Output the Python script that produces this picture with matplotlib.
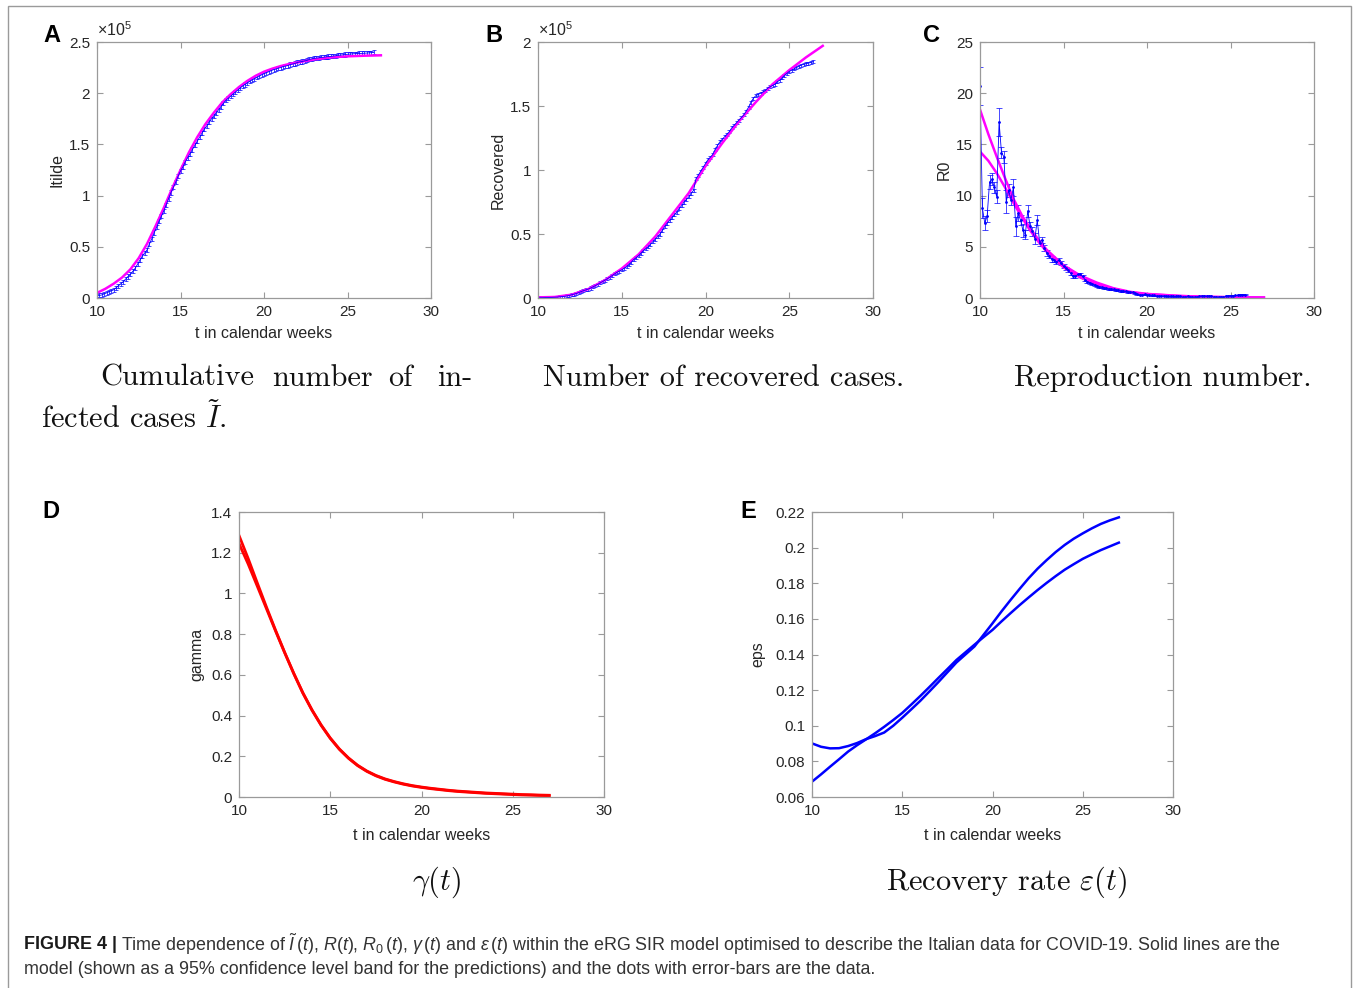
import numpy as np
import matplotlib
matplotlib.use('Agg')
import matplotlib.pyplot as plt
from matplotlib.ticker import FormatStrFormatter
from matplotlib.patches import Rectangle

plt.rcParams['font.family'] = ['Liberation Sans', 'DejaVu Sans']
plt.rcParams['mathtext.fontset'] = 'custom'
plt.rcParams['mathtext.rm'] = 'Liberation Sans'
plt.rcParams['mathtext.it'] = 'Liberation Sans:italic'
plt.rcParams['mathtext.bf'] = 'Liberation Sans:bold'

W, H = 1356, 988

# ---- data ----
weeks = [10, 11, 12, 13, 14, 15, 16, 17, 18, 19, 20, 21, 22, 23, 24, 25, 26, 27]
half_weeks = [10, 10.5, 11, 11.5, 12, 12.5, 13, 13.5, 14, 14.5, 15, 15.5, 16, 16.5, 17, 17.5,
              18, 18.5, 19, 19.5, 20, 20.5, 21, 21.5, 22, 22.5, 23, 23.5, 24, 24.5, 25, 25.5,
              26, 26.5, 27]

# A: cumulative infected, x1e5
itilde_model = [0.05, 0.09, 0.14, 0.20, 0.28, 0.39, 0.53, 0.70, 0.88, 1.07, 1.25, 1.42,
                1.57, 1.70, 1.81, 1.91, 1.99, 2.06, 2.12, 2.17, 2.21, 2.24, 2.265, 2.285,
                2.30, 2.315, 2.33, 2.34, 2.35, 2.355, 2.36, 2.363, 2.366, 2.368, 2.37]
itilde_data = [0.02, 0.025, 0.03, 0.04, 0.05, 0.06, 0.07,
               0.08, 0.10, 0.12, 0.14, 0.16, 0.185, 0.21,
               0.23, 0.26, 0.29, 0.33, 0.37, 0.41, 0.44,
               0.47, 0.53, 0.58, 0.64, 0.69, 0.75, 0.80,
               0.85, 0.91, 0.97, 1.03, 1.08, 1.13, 1.19,
               1.24, 1.28, 1.33, 1.37, 1.41, 1.45, 1.49,
               1.53, 1.57, 1.61, 1.65, 1.68, 1.72, 1.75,
               1.78, 1.81, 1.84, 1.87, 1.90, 1.93, 1.95,
               1.97, 1.99, 2.01, 2.03, 2.05, 2.07, 2.085,
               2.10, 2.115, 2.13, 2.14, 2.155, 2.165, 2.18,
               2.19, 2.20, 2.21, 2.22, 2.23, 2.235, 2.245,
               2.25, 2.26, 2.265, 2.27, 2.28, 2.285, 2.29,
               2.30, 2.305, 2.31, 2.315, 2.32, 2.33, 2.335,
               2.34, 2.343, 2.346, 2.35, 2.352, 2.355, 2.358,
               2.36, 2.363, 2.366, 2.37, 2.372, 2.375, 2.378,
               2.38, 2.382, 2.384, 2.386, 2.387, 2.388, 2.389,
               2.39, 2.392, 2.394, 2.396, 2.398]
itilde_err = 0.02

# B: recovered, x1e5
rec_model = [0.005, 0.008, 0.026, 0.07, 0.14, 0.23, 0.34, 0.48, 0.65, 0.82, 1.03, 1.21,
             1.38, 1.53, 1.67, 1.78, 1.88, 1.97]
rec_data = [0.001, 0.002, 0.002, 0.003, 0.003, 0.004, 0.005,
            0.006, 0.007, 0.009, 0.011, 0.013, 0.016, 0.02,
            0.025, 0.03, 0.035, 0.042, 0.05, 0.057, 0.063,
            0.07, 0.078, 0.087, 0.097, 0.107, 0.118, 0.128,
            0.14, 0.15, 0.162, 0.175, 0.188, 0.20, 0.21,
            0.22, 0.232, 0.245, 0.262, 0.28, 0.30, 0.315,
            0.33, 0.35, 0.37, 0.385, 0.40, 0.42, 0.44,
            0.46, 0.48, 0.50, 0.53, 0.56, 0.585, 0.605,
            0.63, 0.65, 0.67, 0.70, 0.72, 0.75, 0.77,
            0.79, 0.82, 0.84, 0.93, 0.96, 0.99, 1.02,
            1.05, 1.08, 1.10, 1.12, 1.16, 1.19, 1.22,
            1.24, 1.26, 1.28, 1.30, 1.33, 1.35, 1.37,
            1.39, 1.41, 1.43, 1.46, 1.49, 1.53, 1.56,
            1.58, 1.59, 1.60, 1.61, 1.62, 1.64, 1.65,
            1.66, 1.67, 1.69, 1.70, 1.72, 1.74, 1.755,
            1.77, 1.78, 1.79, 1.80, 1.81, 1.82, 1.825,
            1.83, 1.835, 1.84, 1.845]
rec_err = 0.012

# C: reproduction number
r0_weeks = [10, 10.5, 11, 11.5, 12, 12.5, 13, 13.5, 14, 15, 16, 17, 18, 19, 20, 21, 22,
            23, 24, 25, 26, 27]
r0_hi = [18.4, 16.0, 13.8, 11.7, 9.7, 8.1, 6.8, 5.7, 4.7, 3.2, 2.2, 1.5, 0.95, 0.6, 0.4,
         0.3, 0.2, 0.15, 0.1, 0.08, 0.06, 0.05]
r0_lo = [14.3, 13.4, 12.2, 10.8, 9.3, 7.9, 6.6, 5.5, 4.5, 3.0, 2.0, 1.35, 0.9, 0.55, 0.38,
         0.28, 0.19, 0.14, 0.1, 0.08, 0.06, 0.05]
r0_data = [20.7, 8.8, 7.3, 8.0, 11.3, 11.6, 10.8,
           9.9, 17.2, 14.2, 13.8, 9.4, 10.5, 9.6,
           10.8, 7.0, 8.3, 7.6, 6.6, 6.2, 8.5,
           7.0, 6.5, 5.8, 7.6, 5.4, 5.7, 4.9,
           4.4, 4.1, 3.8, 3.7, 3.5, 3.7, 3.4,
           3.1, 2.9, 2.7, 2.4, 2.1, 2.1, 2.3,
           2.3, 2.1, 1.8, 1.6, 1.5, 1.4, 1.3,
           1.2, 1.1, 1.05, 1.0, 0.95, 0.9, 0.9,
           0.85, 0.8, 0.8, 0.7, 0.7, 0.65, 0.6,
           0.6, 0.55, 0.5, 0.35, 0.3, 0.3, 0.35,
           0.3, 0.3, 0.25, 0.25, 0.2, 0.2, 0.2,
           0.2, 0.2, 0.15, 0.2, 0.15, 0.15, 0.2,
           0.15, 0.1, 0.1, 0.15, 0.1, 0.1, 0.1,
           0.1, 0.15, 0.2, 0.2, 0.15, 0.2, 0.15,
           0.1, 0.1, 0.1, 0.1, 0.1, 0.15, 0.2,
           0.2, 0.2, 0.25, 0.25, 0.3, 0.3, 0.3]
r0_err = [1.9, 1.0, 0.7, 0.6, 0.7, 0.6, 0.5,
          0.6, 1.4, 0.5, 0.6, 1.1, 0.6, 0.5,
          0.8, 0.9, 0.8, 0.5, 0.6, 0.4, 0.6,
          0.4, 0.4, 0.5, 0.5, 0.3, 0.3, 0.3,
          0.3, 0.2, 0.3, 0.2, 0.2, 0.2, 0.2,
          0.2, 0.15, 0.15, 0.15, 0.15, 0.15, 0.15,
          0.15, 0.15, 0.1, 0.1, 0.1, 0.1, 0.1,
          0.1, 0.1, 0.1, 0.1, 0.1, 0.1, 0.1,
          0.08, 0.08, 0.08, 0.08, 0.08, 0.08, 0.08,
          0.08, 0.08, 0.08, 0.05, 0.05, 0.05, 0.05,
          0.05, 0.05, 0.05, 0.05, 0.05, 0.05, 0.05,
          0.05, 0.05, 0.05, 0.05, 0.05, 0.05, 0.05,
          0.05, 0.05, 0.05, 0.05, 0.05, 0.05, 0.05,
          0.05, 0.05, 0.05, 0.05, 0.05, 0.05, 0.05,
          0.05, 0.05, 0.05, 0.05, 0.05, 0.05, 0.05,
          0.05, 0.05, 0.05, 0.05, 0.05, 0.05, 0.05]

# D: gamma(t) band (half-week grid)
gamma_hi = [1.285, 1.172, 1.052, 0.934, 0.820, 0.711, 0.608, 0.512, 0.428, 0.354, 0.290,
            0.236, 0.192, 0.156, 0.128, 0.106, 0.089, 0.076, 0.065, 0.056, 0.049, 0.043,
            0.038, 0.033, 0.029, 0.026, 0.023, 0.020, 0.018, 0.016, 0.014, 0.012, 0.011,
            0.0095, 0.0085]
gamma_lo = [1.245, 1.145, 1.036, 0.926, 0.816, 0.709, 0.606, 0.510, 0.426, 0.352, 0.288,
            0.234, 0.190, 0.154, 0.126, 0.104, 0.087, 0.074, 0.063, 0.054, 0.047, 0.041,
            0.036, 0.031, 0.027, 0.024, 0.021, 0.018, 0.016, 0.014, 0.012, 0.010, 0.009,
            0.0075, 0.0065]

# E: eps(t) band (half-week grid)
eps_a = [0.0901, 0.0882, 0.0873, 0.0874, 0.0886, 0.0903, 0.0925, 0.0942, 0.0962, 0.1000,
         0.1045, 0.1092, 0.1140, 0.1192, 0.1245, 0.1300, 0.1355, 0.1400, 0.1445, 0.1510,
         0.1575, 0.1642, 0.1706, 0.1768, 0.1828, 0.1882, 0.1930, 0.1975, 0.2015, 0.2050,
         0.2080, 0.2108, 0.2133, 0.2153, 0.2170]
eps_b = [0.0686, 0.0727, 0.0770, 0.0812, 0.0855, 0.0891, 0.0924, 0.0958, 0.0994, 0.1032,
         0.1072, 0.1119, 0.1167, 0.1217, 0.1268, 0.1318, 0.1369, 0.1412, 0.1455, 0.1497,
         0.1538, 0.1586, 0.1632, 0.1677, 0.1720, 0.1762, 0.1802, 0.1840, 0.1876, 0.1907,
         0.1937, 0.1962, 0.1986, 0.2007, 0.2028]

# ---- figure ----
fig = plt.figure(figsize=(W / 100, H / 100), dpi=100)


def px_axes(x0, y0, x1, y1):
    return fig.add_axes([x0 / W, 1 - y1 / H, (x1 - x0) / W, (y1 - y0) / H])


def style(ax, ylim, yticks, ylab, ylab_x, fmt='%g'):
    ax.set_xlim(10, 30)
    ax.set_xticks([10, 15, 20, 25, 30])
    ax.set_ylim(*ylim)
    ax.set_yticks(yticks)
    ax.yaxis.set_major_formatter(FormatStrFormatter(fmt))
    ax.tick_params(direction='in', top=True, right=True, length=4, width=0.8,
                   color='#9a9a9a', labelcolor='#262626', labelsize=11, pad=5)
    for s in ax.spines.values():
        s.set_color('#9a9a9a')
        s.set_linewidth(0.9)
    ax.set_xlabel('t in calendar weeks', fontsize=11.5, color='#262626')
    ax.set_ylabel(ylab, fontsize=11.5, color='#262626')
    ax.yaxis.set_label_coords(ylab_x, 0.5)
    ax.xaxis.set_label_coords(0.5, -0.11)


t_day = 10 + np.arange(120) / 7.0

# A
axA = px_axes(97, 42, 431, 298)
axA.errorbar(t_day[:len(itilde_data)], itilde_data, yerr=itilde_err, color='#0000ff',
             lw=0.6, elinewidth=0.5, capsize=1.5, capthick=0.5)
axA.plot(half_weeks, itilde_model, color='#ff00ff', lw=1.8)
style(axA, (0, 2.5), [0, 0.5, 1, 1.5, 2, 2.5], 'Itilde', -0.096)
axA.text(0.0, 1.01, r'$\mathregular{\times10^5}$', transform=axA.transAxes,
         fontsize=11.5, color='#262626', va='bottom', ha='left')

# B
axB = px_axes(538, 42, 873, 298)
axB.errorbar(t_day[:len(rec_data)], rec_data, yerr=rec_err, color='#0000ff',
             lw=0.6, elinewidth=0.5, capsize=1.5, capthick=0.5)
axB.plot(weeks, rec_model, color='#ff00ff', lw=1.8)
style(axB, (0, 2), [0, 0.5, 1, 1.5, 2], 'Recovered', -0.095)
axB.text(0.0, 1.01, r'$\mathregular{\times10^5}$', transform=axB.transAxes,
         fontsize=11.5, color='#262626', va='bottom', ha='left')

# C
axC = px_axes(980, 42, 1314, 298)
axC.errorbar(t_day[:len(r0_data)], r0_data, yerr=r0_err, color='#0000ff',
             lw=0.6, elinewidth=0.5, capsize=2, capthick=0.5, marker='.', ms=2)
axC.plot(r0_weeks, r0_hi, color='#ff00ff', lw=1.8)
axC.plot(r0_weeks, r0_lo, color='#ff00ff', lw=1.8)
style(axC, (0, 25), [0, 5, 10, 15, 20, 25], 'R0', -0.086)

# D
axD = px_axes(239, 512, 604, 797)
axD.plot(half_weeks, gamma_hi, color='#ff0000', lw=2)
axD.plot(half_weeks, gamma_lo, color='#ff0000', lw=2)
style(axD, (0, 1.4), [0, 0.2, 0.4, 0.6, 0.8, 1, 1.2, 1.4], 'gamma', -0.096)

# E
axE = px_axes(812, 512, 1173, 797)
axE.plot(half_weeks, eps_a, color='#0000ff', lw=1.8)
axE.plot(half_weeks, eps_b, color='#0000ff', lw=1.8)
style(axE, (0.06, 0.22), [0.06, 0.08, 0.1, 0.12, 0.14, 0.16, 0.18, 0.2, 0.22], 'eps', -0.128)

# panel letters
for lab, x, y in [('A', 52, 35), ('B', 494, 35), ('C', 932, 35), ('D', 51, 512), ('E', 748, 512)]:
    fig.text(x / W, 1 - y / H, lab, fontsize=17, fontweight='bold', ha='center', va='center')

# sub captions (serif, LaTeX look)
cap = dict(fontsize=21.8, family='cmr10', math_fontfamily='cm', va='center', color='#111111')
for word, x in [('Cumulative', 100), ('number', 272), ('of', 388), ('in-', 437)]:
    fig.text(x / W, 1 - 378 / H, word, **cap)
fig.text(41 / W, 1 - 418 / H, r'fected cases $\tilde{I}$.', **cap)
fig.text(543 / W, 1 - 378 / H, 'Number of recovered cases.', **cap)
fig.text(1014 / W, 1 - 378 / H, 'Reproduction number.', **cap)
fig.text(437 / W, 1 - 882 / H, r'$\gamma(t)$', ha='center', fontsize=21.8, math_fontfamily='cm',
         va='center', color='#111111')
fig.text(886 / W, 1 - 882 / H, r'Recovery rate $\varepsilon(t)$', **cap)

# figure caption
renderer = fig.canvas.get_renderer()
t1 = fig.text(24 / W, 1 - 944 / H, 'FIGURE 4 |', fontsize=12.9, fontweight='bold', va='center',
              color='#1a1a1a')
bb = t1.get_window_extent(renderer)
fig.text((bb.x1 + 4) / W, 1 - 944 / H,
         r'Time dependence of $\tilde{I}\,(t)$, $R(t)$, $R_0\,(t)$, $\gamma\,(t)$ and '
         r'$\varepsilon\,(t)$ within the eRG SIR model optimised to describe the Italian data '
         'for COVID-19. Solid lines are the', fontsize=12.9, va='center', color='#333333')
fig.text(24 / W, 1 - 969 / H,
         'model (shown as a 95% confidence level band for the predictions) and the dots with '
         'error-bars are the data.', fontsize=12.9, va='center', color='#333333')

# outer frame
fig.patches.append(Rectangle((8 / W, -0.01), (1351 - 8) / W, 1 - 6 / H + 0.01,
                             transform=fig.transFigure, fill=False, edgecolor='#9a9a9a',
                             lw=1, figure=fig))

fig.savefig('out.png', dpi=100)
